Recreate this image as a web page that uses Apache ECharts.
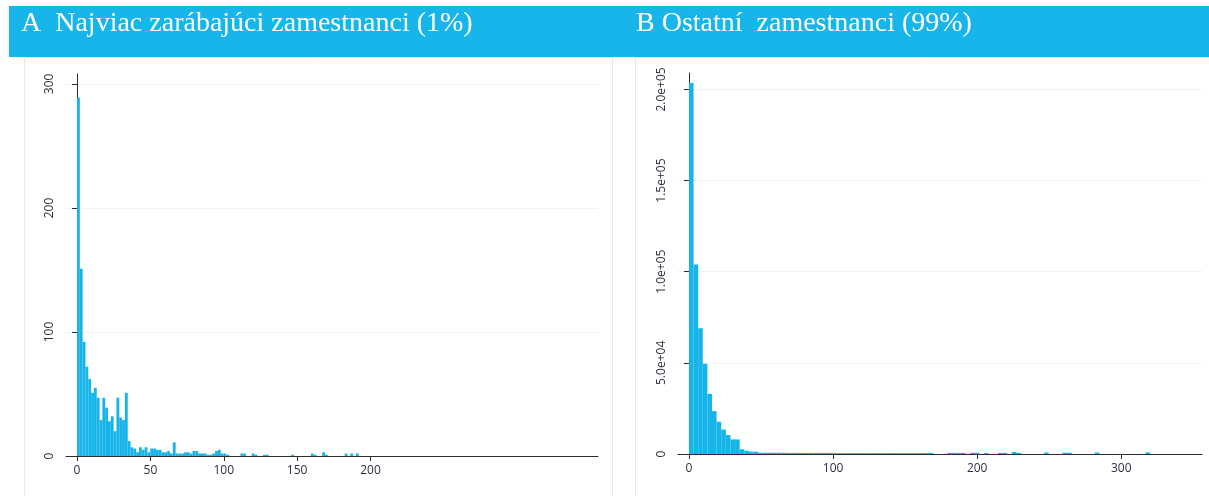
<!DOCTYPE html>
<html><head><meta charset="utf-8">
<script src="https://cdn.jsdelivr.net/npm/echarts@6/dist/echarts.min.js"></script>
<style>html,body{margin:0;padding:0;background:#fff;}#c{width:1209px;height:496px;}</style>
</head><body><div id="c"></div>
<script>
// ---- data ----
const titleA = 'A  Najviac zarábajúci zamestnanci (1%)';
const titleB = 'B Ostatní  zamestnanci (99%)';

// Panel A: histogram bins (width binWidthA, starting at 0)
const binWidthA = 1.92;
const countsA = [
  289,151,92,72,62,51,55,47,29,47,
  39,28,32,20,47,31,29,51,12,7,
  6,3,7,5,7,3,6,6,5,5,
  3,3,4,2,11,2,2,2,3,3,
  2,4,4,2,2,2,1,1,2,4,
  5,2,2,1,0,0,0,0,2,2,
  0,0,2,1,0,0,1,1,0,0,
  0,0,0,0,0,0,1,0,0,0,
  0,0,0,2,1,0,0,3,1,0,
  0,0,0,0,0,2,0,2,0,2
];
const xTicksA = [0,50,100,150,200];
const yTicksA = [0,100,200,300];

// Panel B: histogram bins (width binWidthB, starting at 0)
const binWidthB = 3.2;
const countsB = [
  203500,104000,69000,49500,33000,23500,17700,13400,10400,8000,
  8000,2600,1800,1300,1300,700,700,700,700,700,
  700,600,600,600,600,600,600,600,600,600,
  600,500,500,500,500,500,500,500,500,500,
  500,500,500,500,500,500,500,500,500,500,
  500,500,500,0,0,0,600,600,600,600,
  0,700,700,0,500,0,0,600,600,0,
  1100,600,0,0,0,0,0,800,0,0,
  0,700,700,0,0,0,0,0,800,0,
  0,0,0,0,0,0,0,0,0,900
];
const xTicksB = [0,100,200,300];
const yTicksB = [0,50000,100000,150000,200000];
const yLabelsB = ['0','5.0e+04','1.0e+05','1.5e+05','2.0e+05'];

// ---- chart ----
const BAR = '#17b4e9';
const AXIS = '#2a2a35';
const LABEL = '#2e2e40';
const GRIDLINE = '#edf2f2';

function toBins(counts, w){
  return counts.map((c,i)=>[i*w,(i+1)*w,c]);
}
function histItem(params, api){
  const v = api.value(2);
  const p0 = api.coord([api.value(0), v]);
  const p1 = api.coord([api.value(1), 0]);
  return {type:'rect', shape:{x:p0[0], y:p0[1], width:p1[0]-p0[0], height:p1[1]-p0[1]},
          style:{fill:BAR}};
}
function xAxisDef(idx, min, max, ticks){
  return {type:'value', gridIndex:idx, min:min, max:max,
    axisLine:{show:true, lineStyle:{color:AXIS, width:1}},
    axisTick:{show:true, length:5, customValues:ticks, lineStyle:{color:AXIS}},
    axisLabel:{customValues:ticks, color:LABEL, fontFamily:'Open Sans', fontSize:12, margin:9},
    splitLine:{show:false}};
}
function yAxisDef(idx, max, ticks, fmt){
  return {type:'value', gridIndex:idx, min:0, max:max,
    axisLine:{show:true, lineStyle:{color:AXIS, width:1}},
    axisTick:{show:true, length:5, customValues:ticks, lineStyle:{color:AXIS}},
    axisLabel:{customValues:ticks, rotate:90, color:LABEL, fontFamily:'Open Sans', fontSize:12, margin:10, formatter:fmt},
    splitLine:{show:true, lineStyle:{color:GRIDLINE, width:1}}};
}

const chart = echarts.init(document.getElementById('c'), null, {renderer:'canvas'});
chart.setOption({
  animation:false,
  backgroundColor:'#fff',
  grid:[
    {left:66, top:74, width:532, height:382},
    {left:678, top:73, width:524, height:381}
  ],
  xAxis:[
    xAxisDef(0, -7.5, 355, xTicksA),
    xAxisDef(1, -7.6, 356, xTicksB)
  ],
  yAxis:[
    yAxisDef(0, 308, yTicksA, v=>String(v)),
    yAxisDef(1, 209000, yTicksB, v=>yLabelsB[yTicksB.indexOf(v)])
  ],
  series:[
    {type:'custom', xAxisIndex:0, yAxisIndex:0, renderItem:histItem,
     encode:{x:[0,1], y:2}, data:toBins(countsA, binWidthA)},
    {type:'custom', xAxisIndex:1, yAxisIndex:1, renderItem:histItem,
     encode:{x:[0,1], y:2}, data:toBins(countsB, binWidthB)}
  ],
  graphic:[
    {type:'rect', silent:true, z:-1, shape:{x:9, y:6, width:1210, height:51}, style:{fill:'#17b5ea'}},
    {type:'rect', silent:true, z:-1, shape:{x:24.5, y:57.5, width:588, height:450}, style:{fill:'none', stroke:'#e2e8ec', lineWidth:1}},
    {type:'rect', silent:true, z:-1, shape:{x:635.5, y:57.5, width:600, height:450}, style:{fill:'none', stroke:'#e2e8ec', lineWidth:1}},
    {type:'text', silent:true, left:21, top:10, style:{text:titleA, fill:'#fff', font:'28px "Liberation Serif"'}},
    {type:'text', silent:true, left:636, top:10, style:{text:titleB, fill:'#fff', font:'28px "Liberation Serif"'}}
  ]
});
</script></body></html>
